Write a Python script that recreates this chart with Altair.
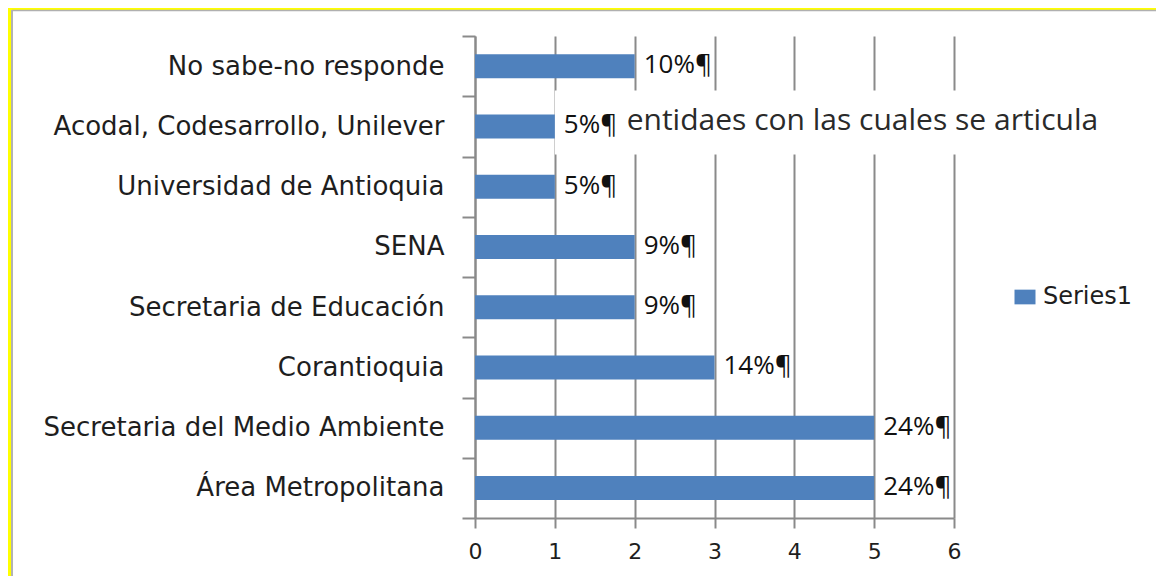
import altair as alt
import pandas as pd

categories = [
    "No sabe-no responde",
    "Acodal, Codesarrollo, Unilever",
    "Universidad de Antioquia",
    "SENA",
    "Secretaria de Educación",
    "Corantioquia",
    "Secretaria del Medio Ambiente",
    "Área Metropolitana",
]
counts = [2, 1, 1, 2, 2, 3, 5, 5]
pct_labels = ["10%¶", "5%¶", "5%¶", "9%¶", "9%¶", "14%¶", "24%¶", "24%¶"]
series_name = "Series1"
x_ticks = [0, 1, 2, 3, 4, 5, 6]
overlay_text = "entidaes con las cuales se articula"
overlay_category = "Acodal, Codesarrollo, Unilever"
overlay_x = [1.0, 7.9]
overlay_text_x = 1.9

df = pd.DataFrame({
    "cat": categories,
    "value": counts,
    "label": pct_labels,
    "series": [series_name] * len(categories),
})

BLUE = "#4F81BD"
GRID = "#8a8a8a"
TXT = "#1e1e1e"

y_enc = alt.Y(
    "cat:N",
    sort=categories,
    title=None,
    scale=alt.Scale(paddingInner=0, paddingOuter=0),
    axis=alt.Axis(
        tickBand="extent",
        domainColor=GRID,
        domainWidth=2,
        tickColor=GRID,
        tickWidth=2,
        tickSize=13,
        labelFont="DejaVu Sans",
        labelFontSize=26,
        labelColor=TXT,
        labelPadding=18,
        grid=False,
        labelLimit=500,
    ),
)

x_scale = alt.Scale(domain=[0, 6], nice=False, zero=True)

bars = alt.Chart(df).mark_bar(height=24).encode(
    x=alt.X(
        "value:Q",
        scale=x_scale,
        title=None,
        axis=alt.Axis(
            values=x_ticks,
            grid=True,
            gridColor=GRID,
            gridWidth=2,
            domainColor=GRID,
            domainWidth=2,
            tickColor=GRID,
            tickWidth=2,
            tickSize=10,
            labelFont="DejaVu Sans",
            labelFontSize=22,
            labelColor=TXT,
            labelPadding=13,
            labelFlush=False,
            format="d",
        ),
    ),
    y=y_enc,
    color=alt.Color(
        "series:N",
        scale=alt.Scale(domain=[series_name], range=[BLUE]),
        legend=alt.Legend(
            title=None,
            orient="none",
            legendX=538,
            legendY=249,
            symbolType="M-1,-0.7H1V0.7H-1Z",
            symbolSize=441,
            symbolStrokeWidth=0,
            labelFont="DejaVu Sans",
            labelFontSize=24,
            labelColor=TXT,
            labelOffset=6,
        ),
    ),
)

overlay_df = pd.DataFrame({
    "cat": [overlay_category],
    "x1": [overlay_x[0]],
    "x2": [overlay_x[1]],
    "tx": [overlay_text_x],
    "txt": [overlay_text],
})

white_box = alt.Chart(overlay_df).mark_bar(height=64, color="white", yOffset=-4).encode(
    x=alt.X("x1:Q", scale=x_scale),
    x2="x2:Q",
    y=alt.Y("cat:N", sort=categories),
)

overlay_label = alt.Chart(overlay_df).mark_text(
    align="left", baseline="middle", font="Open Sans", fontSize=30, color="#2a2a2a", dy=-5
).encode(
    x=alt.X("tx:Q", scale=x_scale),
    y=alt.Y("cat:N", sort=categories),
    text="txt:N",
)

labels = alt.Chart(df).mark_text(
    align="left", baseline="middle", dx=9, dy=-1, font="Open Sans", fontSize=26, color="#111111"
).encode(
    x=alt.X("value:Q", scale=x_scale),
    y=alt.Y("cat:N", sort=categories),
    text="label:N",
)

frame_df = pd.DataFrame({"a": [0]})
yellow_left = alt.Chart(frame_df).mark_rule(color="#FFFF00", strokeWidth=4).encode(
    x=alt.value(-466), y=alt.value(-30), y2=alt.value(560)
)
yellow_top = alt.Chart(frame_df).mark_rule(color="#FFFF00", strokeWidth=4).encode(
    x=alt.value(-470), x2=alt.value(700), y=alt.value(-28)
)
gray_left = alt.Chart(frame_df).mark_rule(color="#9a9a9a", strokeWidth=1.5).encode(
    x=alt.value(-463), y=alt.value(-26), y2=alt.value(560)
)
gray_top = alt.Chart(frame_df).mark_rule(color="#b0b0b0", strokeWidth=1.5).encode(
    x=alt.value(-463), x2=alt.value(700), y=alt.value(-25.5)
)
gray_right = alt.Chart(frame_df).mark_rule(color="#c8c8c8", strokeWidth=1.5).encode(
    x=alt.value(687), y=alt.value(-26), y2=alt.value(560)
)

chart = alt.layer(
    white_box, bars, labels, overlay_label,
    yellow_left, yellow_top, gray_left, gray_top, gray_right,
).properties(
    width=479,
    height=482,
    autosize=alt.AutoSizeParams(type="none"),
    padding={"left": 467, "top": 28, "right": 202, "bottom": 58},
    background="white",
).configure_view(stroke=None)

chart.save("out.html", embed_options={"renderer": "svg", "actions": False})
